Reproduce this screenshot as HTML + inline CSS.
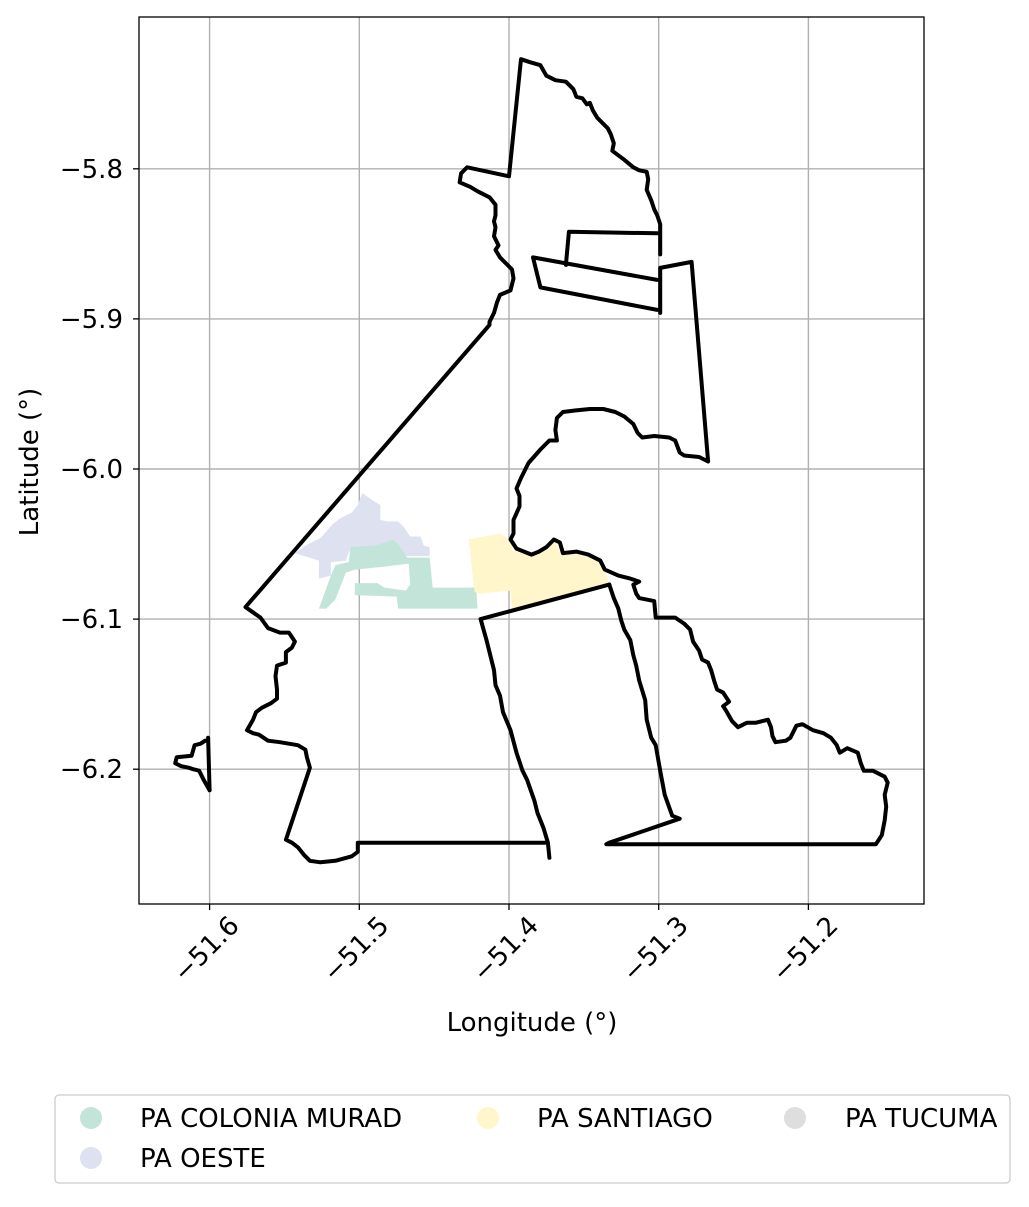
<!DOCTYPE html>
<html><head><meta charset="utf-8"><style>
body{margin:0;background:#fff;}
svg text{font-family:"DejaVu Sans","Liberation Sans",sans-serif;fill:#000;}
</style></head><body>
<svg id="chart" width="1029" height="1202" viewBox="0 0 1029 1202" xmlns="http://www.w3.org/2000/svg">
<g id="grid"></g>
<g id="fills"></g>
<g id="lines"></g>
<rect x="139" y="17" width="785" height="887" fill="none" stroke="#000" stroke-width="1.3"/>
<g id="axes"></g>
<text x="532" y="1031" text-anchor="middle" font-size="26">Longitude (°)</text>
<text x="38" y="462" text-anchor="middle" font-size="26" transform="rotate(-90 38 462)">Latitude (°)</text>
<g>
<rect x="55" y="1095" width="955" height="88" rx="4" fill="#fff" stroke="#ccc" stroke-width="1.3"/>
<g><circle cx="91" cy="1118" r="11" fill="#c3e4d8"/><text x="140" y="1127" font-size="26">PA COLONIA MURAD</text></g>
<g><circle cx="91" cy="1158" r="11" fill="#dee2f0"/><text x="140" y="1167" font-size="26">PA OESTE</text></g>
<g><circle cx="488" cy="1118" r="11" fill="#fff6cb"/><text x="537" y="1127" font-size="26">PA SANTIAGO</text></g>
<g><circle cx="795" cy="1118" r="11" fill="#dedede"/><text x="845" y="1127" font-size="26">PA TUCUMA</text></g>
</g>
</svg>
<script>
const xTicks=[-51.6,-51.5,-51.4,-51.3,-51.2];
const yTicks=[-5.8,-5.9,-6.0,-6.1,-6.2];
const xTickLabels=["−51.6","−51.5","−51.4","−51.3","−51.2"];
const yTickLabels=["−5.8","−5.9","−6.0","−6.1","−6.2"];
const northCoastWest=[[-51.299,-5.857],[-51.299,-5.847],[-51.299,-5.837],[-51.301,-5.831],[-51.303,-5.827],[-51.305,-5.821],[-51.308,-5.814],[-51.307,-5.807],[-51.308,-5.802],[-51.313,-5.801],[-51.317,-5.799],[-51.323,-5.794],[-51.327,-5.791],[-51.331,-5.788],[-51.330,-5.783],[-51.332,-5.777],[-51.334,-5.773],[-51.337,-5.770],[-51.341,-5.766],[-51.344,-5.761],[-51.346,-5.756],[-51.348,-5.757],[-51.351,-5.753],[-51.355,-5.752],[-51.357,-5.747],[-51.362,-5.742],[-51.369,-5.741],[-51.375,-5.738],[-51.379,-5.731],[-51.386,-5.729],[-51.392,-5.727],[-51.400,-5.805],[-51.428,-5.799],[-51.432,-5.803],[-51.433,-5.809],[-51.426,-5.812],[-51.421,-5.815],[-51.413,-5.819],[-51.409,-5.824],[-51.409,-5.831],[-51.410,-5.835],[-51.409,-5.839],[-51.410,-5.845],[-51.407,-5.851],[-51.409,-5.854],[-51.406,-5.859],[-51.403,-5.862],[-51.398,-5.867],[-51.397,-5.873],[-51.399,-5.881],[-51.406,-5.884],[-51.408,-5.889],[-51.410,-5.896],[-51.413,-5.902],[-51.413,-5.904],[-51.576,-6.092],[-51.566,-6.099],[-51.561,-6.106],[-51.553,-6.109],[-51.547,-6.109],[-51.543,-6.115],[-51.545,-6.119],[-51.549,-6.122],[-51.549,-6.129],[-51.555,-6.131],[-51.556,-6.138],[-51.555,-6.147],[-51.555,-6.153],[-51.559,-6.156],[-51.565,-6.159],[-51.569,-6.162],[-51.571,-6.167],[-51.575,-6.174],[-51.571,-6.176],[-51.567,-6.177],[-51.561,-6.181],[-51.553,-6.182],[-51.547,-6.183],[-51.541,-6.184],[-51.536,-6.187],[-51.535,-6.192],[-51.533,-6.199],[-51.549,-6.247],[-51.545,-6.249],[-51.541,-6.252],[-51.537,-6.257],[-51.533,-6.261],[-51.526,-6.262],[-51.516,-6.261],[-51.505,-6.258],[-51.501,-6.255],[-51.501,-6.249],[-51.376,-6.249]];
const islandLine=[[-51.601,-6.179],[-51.600,-6.214]];
const island=[[-51.603,-6.181],[-51.606,-6.183],[-51.610,-6.184],[-51.612,-6.191],[-51.622,-6.192],[-51.623,-6.196],[-51.619,-6.198],[-51.614,-6.199],[-51.611,-6.200],[-51.607,-6.201],[-51.604,-6.207],[-51.600,-6.214]];
const stripWest=[[-51.333,-6.077],[-51.419,-6.100],[-51.415,-6.114],[-51.410,-6.134],[-51.409,-6.144],[-51.406,-6.151],[-51.404,-6.162],[-51.399,-6.174],[-51.395,-6.189],[-51.391,-6.201],[-51.388,-6.207],[-51.383,-6.221],[-51.381,-6.229],[-51.377,-6.239],[-51.374,-6.249],[-51.373,-6.259]];
const eastOutline=[[-51.333,-6.077],[-51.330,-6.086],[-51.327,-6.093],[-51.325,-6.101],[-51.323,-6.107],[-51.319,-6.114],[-51.317,-6.124],[-51.315,-6.131],[-51.313,-6.141],[-51.309,-6.154],[-51.308,-6.167],[-51.305,-6.179],[-51.302,-6.184],[-51.299,-6.201],[-51.296,-6.217],[-51.291,-6.231],[-51.286,-6.233],[-51.333,-6.249],[-51.335,-6.250],[-51.155,-6.250],[-51.151,-6.244],[-51.149,-6.234],[-51.148,-6.225],[-51.149,-6.217],[-51.147,-6.209],[-51.149,-6.205],[-51.157,-6.201],[-51.163,-6.201],[-51.165,-6.196],[-51.167,-6.189],[-51.174,-6.186],[-51.179,-6.189],[-51.181,-6.184],[-51.185,-6.179],[-51.190,-6.176],[-51.197,-6.174],[-51.204,-6.170],[-51.208,-6.171],[-51.212,-6.179],[-51.215,-6.181],[-51.222,-6.182],[-51.224,-6.178],[-51.225,-6.172],[-51.227,-6.167],[-51.235,-6.169],[-51.241,-6.169],[-51.247,-6.172],[-51.251,-6.168],[-51.255,-6.161],[-51.257,-6.158],[-51.253,-6.155],[-51.257,-6.149],[-51.261,-6.147],[-51.263,-6.141],[-51.265,-6.134],[-51.267,-6.129],[-51.271,-6.127],[-51.273,-6.121],[-51.277,-6.115],[-51.279,-6.107],[-51.283,-6.103],[-51.289,-6.099],[-51.302,-6.099],[-51.303,-6.088],[-51.313,-6.086],[-51.315,-6.083],[-51.317,-6.077],[-51.313,-6.075],[-51.319,-6.073],[-51.327,-6.071],[-51.336,-6.067],[-51.339,-6.061],[-51.347,-6.057],[-51.355,-6.055],[-51.364,-6.056],[-51.366,-6.049],[-51.370,-6.047],[-51.375,-6.052],[-51.380,-6.055],[-51.385,-6.057],[-51.395,-6.053],[-51.399,-6.047],[-51.397,-6.043],[-51.397,-6.034],[-51.393,-6.025],[-51.393,-6.018],[-51.395,-6.013],[-51.392,-6.006],[-51.387,-5.996],[-51.379,-5.987],[-51.373,-5.981],[-51.368,-5.981],[-51.369,-5.974],[-51.368,-5.966],[-51.364,-5.962],[-51.356,-5.961],[-51.346,-5.960],[-51.337,-5.960],[-51.329,-5.962],[-51.323,-5.965],[-51.317,-5.970],[-51.314,-5.976],[-51.311,-5.979],[-51.303,-5.978],[-51.293,-5.979],[-51.289,-5.981],[-51.286,-5.989],[-51.283,-5.991],[-51.273,-5.992],[-51.267,-5.995],[-51.278,-5.862],[-51.299,-5.866],[-51.299,-5.896]];
const innerTrap=[[-51.301,-5.874],[-51.384,-5.859],[-51.379,-5.879],[-51.301,-5.894]];
const innerRect=[[-51.362,-5.864],[-51.360,-5.842],[-51.301,-5.843]];
const oesteArea=[[-51.543,-6.056],[-51.536,-6.051],[-51.526,-6.046],[-51.518,-6.037],[-51.513,-6.033],[-51.505,-6.029],[-51.501,-6.024],[-51.498,-6.016],[-51.491,-6.021],[-51.486,-6.024],[-51.486,-6.034],[-51.481,-6.035],[-51.474,-6.035],[-51.470,-6.039],[-51.466,-6.045],[-51.459,-6.045],[-51.457,-6.051],[-51.453,-6.052],[-51.453,-6.058],[-51.473,-6.058],[-51.489,-6.053],[-51.506,-6.053],[-51.509,-6.061],[-51.519,-6.062],[-51.519,-6.071],[-51.527,-6.073],[-51.527,-6.061]];
const muradArea=[[-51.527,-6.093],[-51.523,-6.082],[-51.519,-6.071],[-51.516,-6.064],[-51.507,-6.062],[-51.506,-6.052],[-51.489,-6.051],[-51.477,-6.047],[-51.471,-6.054],[-51.468,-6.059],[-51.453,-6.059],[-51.451,-6.079],[-51.422,-6.079],[-51.421,-6.093],[-51.474,-6.093],[-51.475,-6.085],[-51.503,-6.084],[-51.503,-6.076],[-51.488,-6.076],[-51.483,-6.079],[-51.469,-6.081],[-51.466,-6.077],[-51.467,-6.063],[-51.483,-6.065],[-51.503,-6.067],[-51.509,-6.069],[-51.516,-6.087],[-51.522,-6.093]];
const santiagoArea=[[-51.427,-6.047],[-51.406,-6.043],[-51.399,-6.047],[-51.398,-6.054],[-51.389,-6.057],[-51.379,-6.055],[-51.369,-6.047],[-51.366,-6.056],[-51.353,-6.055],[-51.339,-6.061],[-51.336,-6.067],[-51.333,-6.076],[-51.366,-6.085],[-51.398,-6.093],[-51.399,-6.081],[-51.419,-6.083],[-51.423,-6.082]];

const NS='http://www.w3.org/2000/svg';
const X=lon=>509+(lon+51.4)*1497;
const Y=lat=>469-(lat+6.0)*1501;
const L=139,R=924,T=17,B=904;
function mk(tag,attrs,parent){const e=document.createElementNS(NS,tag);for(const k in attrs)e.setAttribute(k,attrs[k]);parent.appendChild(e);return e;}
const pts=a=>a.map(p=>X(p[0]).toFixed(1)+','+Y(p[1]).toFixed(1)).join(' ');
const grid=document.getElementById('grid'),axes=document.getElementById('axes');
xTicks.forEach((v,i)=>{const x=X(v);
 const g=mk('line',{x1:x,x2:x,y1:T,y2:B,stroke:'#b0b0b0','stroke-width':1.4},grid);
 
 
 const t=mk('line',{x1:x,x2:x,y1:B,y2:B+6,stroke:'#000','stroke-width':1.3},axes);
 
 
 const ax=x+31, ay=B+23;
 const tx=mk('text',{x:ax,y:ay,'font-size':26,'text-anchor':'end',transform:`rotate(-45 ${ax} ${ay})`},axes);
 tx.textContent=xTickLabels[i];
 
 
});
yTicks.forEach((v,i)=>{const y=Y(v);
 const g=mk('line',{x1:L,x2:R,y1:y,y2:y,stroke:'#b0b0b0','stroke-width':1.4},grid);
 
 
 const t=mk('line',{x1:L-6,x2:L,y1:y,y2:y,stroke:'#000','stroke-width':1.3},axes);
 
 
 const tx=mk('text',{x:L-16,y:y+9,'font-size':26,'text-anchor':'end'},axes);
 tx.textContent=yTickLabels[i];
 
 
});
const fills=document.getElementById('fills');
const f1=mk('polygon',{points:pts(oesteArea),fill:'#dee2f0'},fills);


const f2=mk('polygon',{points:pts(muradArea),fill:'#c3e4d8'},fills);


const f3=mk('polygon',{points:pts(santiagoArea),fill:'#fff6cb'},fills);


const lines=document.getElementById('lines');
const ls={fill:'none',stroke:'#000','stroke-width':4,'stroke-linejoin':'round','stroke-linecap':'round'};
[[northCoastWest,'boundary-west'],[islandLine,'boundary-island-edge'],[island,'boundary-island'],[stripWest,'boundary-middle-strip'],[eastOutline,'boundary-east'],[innerTrap,'boundary-inner-trapezoid'],[innerRect,'boundary-inner-rect']].forEach(([d,n])=>{
 const p=mk('polyline',Object.assign({points:pts(d)},ls),lines);
 
 
});
</script>
</body></html>
